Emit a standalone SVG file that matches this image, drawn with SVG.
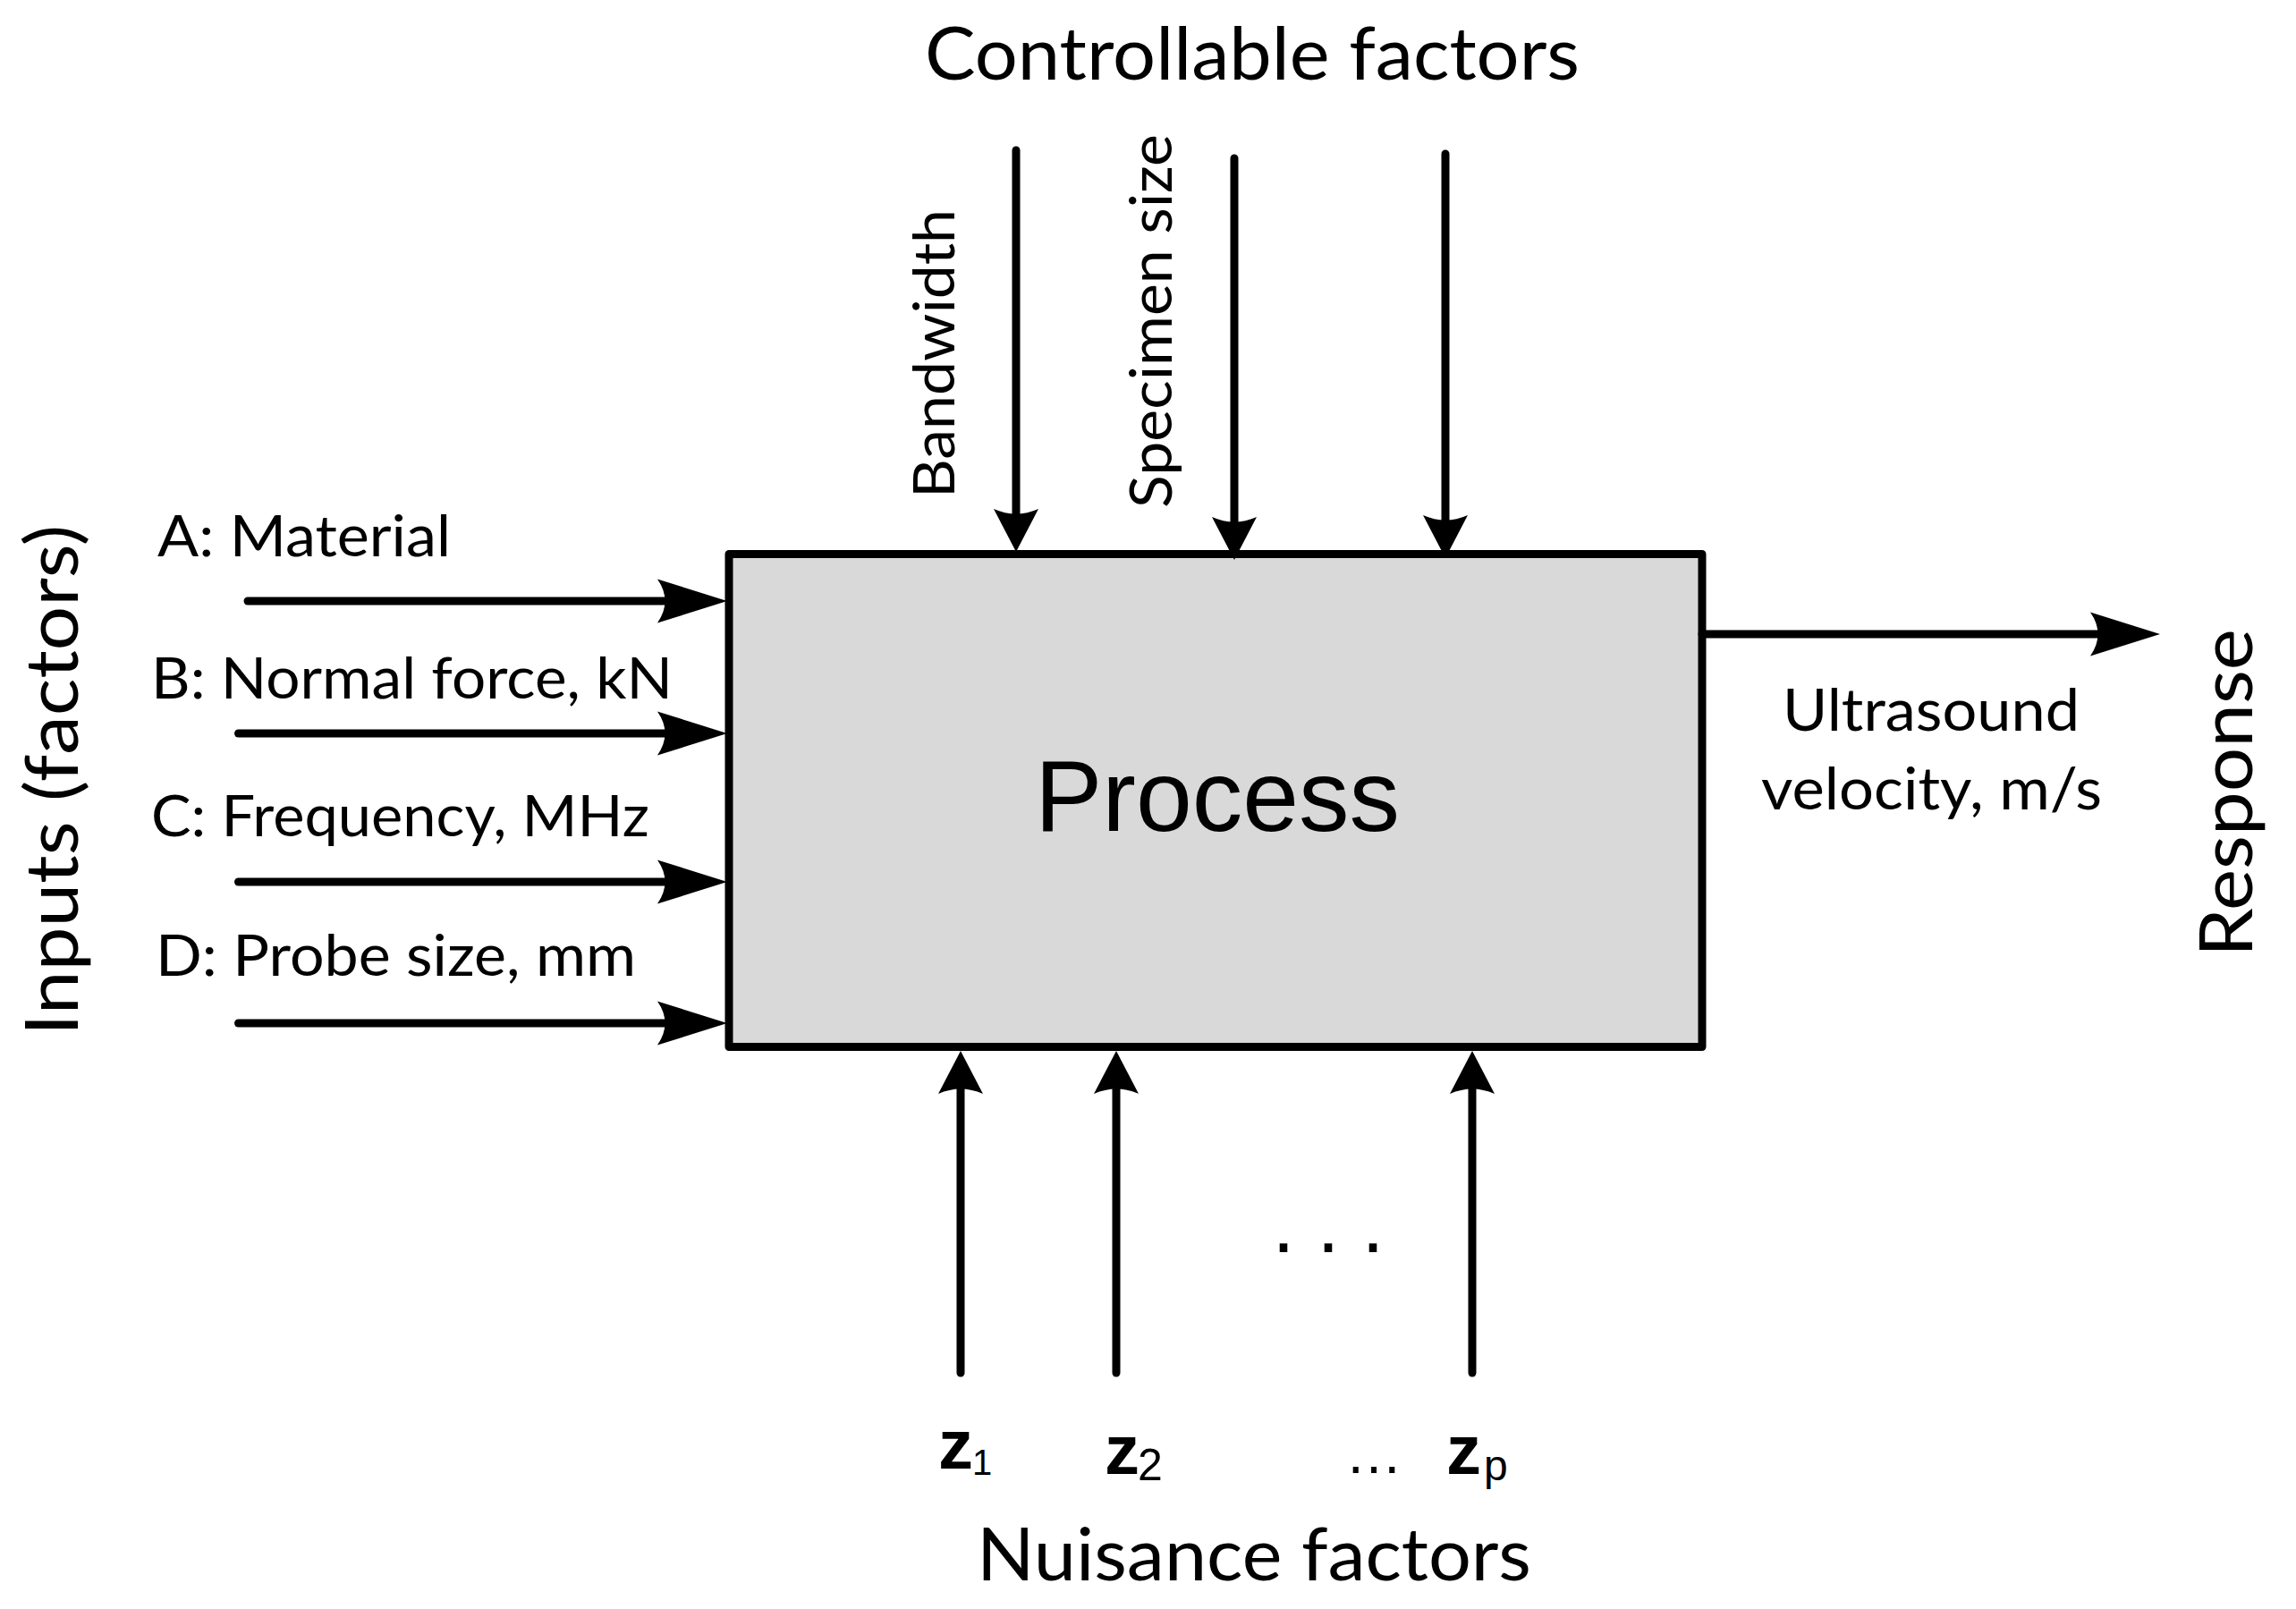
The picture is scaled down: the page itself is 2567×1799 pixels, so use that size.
<svg xmlns="http://www.w3.org/2000/svg" width="2567" height="1799" viewBox="0 0 2567 1799">
  <style>
    .lbl { font-family: "Lato", "Open Sans", sans-serif; fill: #000; }
    .big { font-size: 81px; }
    .mid { font-size: 65px; }
    .ar { font-family: "Liberation Sans", Arial, sans-serif; fill: #000; }
    .conn { stroke: #000; stroke-width: 9; fill: none; stroke-linecap: round; }
  </style>
  <defs>
    <marker id="ah" markerUnits="userSpaceOnUse" orient="auto" markerWidth="80" markerHeight="52" viewBox="0 -26 80 52" refX="18" refY="0" overflow="visible">
      <path d="M0,-24.5 L78,0 L0,24.5 Q17,0 0,-24.5 Z" fill="#000"/>
    </marker>
    <marker id="av" markerUnits="userSpaceOnUse" orient="auto" markerWidth="50" markerHeight="52" viewBox="0 -26 50 52" refX="13" refY="0" overflow="visible">
      <path d="M0,-25 L48,0 L0,25 Q11,0 0,-25 Z" fill="#000"/>
    </marker>
  </defs>
  <rect width="2567" height="1799" fill="#fff"/>

  <g id="process">
    <rect x="815" y="619.5" width="1088" height="551" fill="#d9d9d9" stroke="#000" stroke-width="9" stroke-linejoin="round"/>
    <text class="ar" x="1361" y="929" font-size="113" text-anchor="middle">Process</text>
  </g>

  <g id="connectors">
    <line class="conn" x1="277" y1="672" x2="753" y2="672" marker-end="url(#ah)"/>
    <line class="conn" x1="266.5" y1="820" x2="753" y2="820" marker-end="url(#ah)"/>
    <line class="conn" x1="266.5" y1="986" x2="753" y2="986" marker-end="url(#ah)"/>
    <line class="conn" x1="266.5" y1="1144" x2="753" y2="1144" marker-end="url(#ah)"/>
    <line class="conn" x1="1903" y1="709" x2="2355" y2="709" marker-end="url(#ah)"/>
    <line class="conn" x1="1136" y1="168" x2="1136" y2="582" marker-end="url(#av)"/>
    <line class="conn" x1="1380" y1="177" x2="1380" y2="591" marker-end="url(#av)"/>
    <line class="conn" x1="1616" y1="172" x2="1616" y2="589" marker-end="url(#av)"/>
    <line class="conn" x1="1074" y1="1535" x2="1074" y2="1210" marker-end="url(#av)"/>
    <line class="conn" x1="1248" y1="1535" x2="1248" y2="1210" marker-end="url(#av)"/>
    <line class="conn" x1="1646" y1="1535" x2="1646" y2="1210" marker-end="url(#av)"/>
  </g>

  <g id="title-controllable">
    <text class="lbl big" x="1034" y="89" textLength="732" lengthAdjust="spacingAndGlyphs">Controllable factors</text>
  </g>
  <g id="title-inputs">
    <text class="lbl big" transform="translate(87,1158) rotate(-90)" x="0" y="0" textLength="571" lengthAdjust="spacingAndGlyphs">Inputs (factors)</text>
  </g>
  <g id="title-response">
    <text class="lbl big" transform="translate(2518,1070) rotate(-90)" x="0" y="0" textLength="367" lengthAdjust="spacingAndGlyphs">Response</text>
  </g>
  <g id="title-nuisance">
    <text class="lbl big" x="1092" y="1767" textLength="620" lengthAdjust="spacingAndGlyphs">Nuisance factors</text>
  </g>

  <g id="input-a"><text class="lbl" font-size="63" x="176" y="622" textLength="328" lengthAdjust="spacingAndGlyphs">A: Material</text></g>
  <g id="input-b"><text class="lbl" font-size="63" x="169" y="781" textLength="583" lengthAdjust="spacingAndGlyphs">B: Normal force, kN</text></g>
  <g id="input-c"><text class="lbl" font-size="63" x="169" y="935" textLength="557" lengthAdjust="spacingAndGlyphs">C: Frequency, MHz</text></g>
  <g id="input-d"><text class="lbl" font-size="63" x="174" y="1091" textLength="537" lengthAdjust="spacingAndGlyphs">D: Probe size, mm</text></g>

  <g id="ctrl-bandwidth">
    <text class="lbl" font-size="64" transform="translate(1067,557) rotate(-90)" x="0" y="0" textLength="323" lengthAdjust="spacingAndGlyphs">Bandwidth</text>
  </g>
  <g id="ctrl-specimen">
    <text class="lbl" font-size="65" transform="translate(1310,568) rotate(-90)" x="0" y="0" textLength="418" lengthAdjust="spacingAndGlyphs">Specimen size</text>
  </g>

  <g id="response-label">
    <text class="lbl" font-size="66" x="1993" y="817" textLength="332" lengthAdjust="spacingAndGlyphs">Ultrasound</text>
    <text class="lbl" font-size="66" x="1969" y="905" textLength="381" lengthAdjust="spacingAndGlyphs">velocity, m/s</text>
  </g>

  <g id="nuisance-dots">
    <text class="ar" font-size="90" x="1422.5" y="1399.5">. . .</text>
  </g>
  <g id="nuisance-z1">
    <text class="ar" font-size="78" font-weight="bold" x="1049" y="1642">z<tspan font-weight="normal" font-size="40" x="1087" y="1649">1</tspan></text>
  </g>
  <g id="nuisance-z2">
    <text class="ar" font-size="78" font-weight="bold" x="1235" y="1648">z<tspan font-weight="normal" font-size="50" x="1272" y="1655">2</tspan></text>
  </g>
  <g id="nuisance-ellipsis">
    <text class="ar" font-size="64" x="1504" y="1647">…</text>
  </g>
  <g id="nuisance-zp">
    <text class="ar" font-size="78" font-weight="bold" x="1617" y="1648">z<tspan font-weight="normal" font-size="48" x="1659" y="1655">p</tspan></text>
  </g>
</svg>
